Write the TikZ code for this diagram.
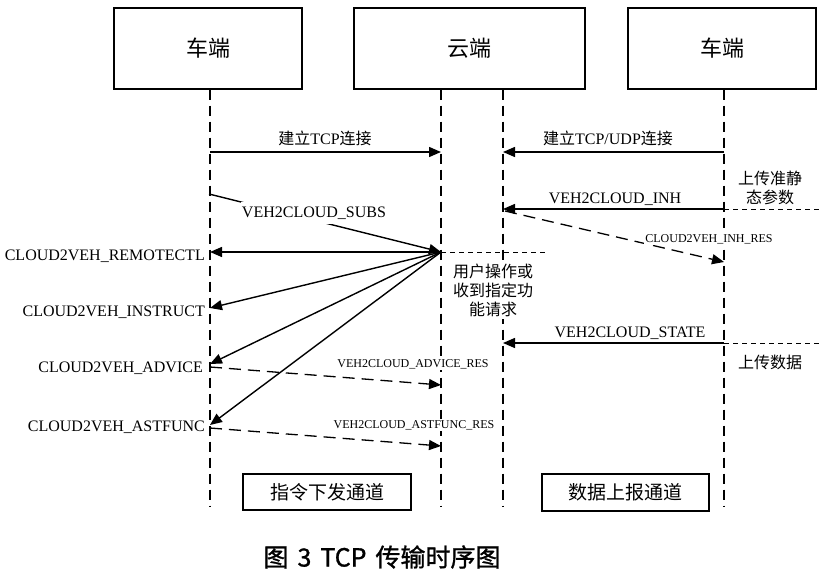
\documentclass[tikz,border=0pt]{standalone}
\usepackage{fontspec}
\setmainfont{Liberation Serif}
\newfontfamily\cjk{Noto Sans CJK SC}
\newfontfamily\capfont[FakeBold=1.2]{Noto Sans CJK SC}
\usetikzlibrary{arrows.meta}
\begin{document}
\begin{tikzpicture}[x=1pt,y=-1pt,
  actor/.style={draw,line width=1.1pt,inner sep=0pt,font=\cjk\fontsize{22}{24}\selectfont},
  chanbox/.style={draw,line width=1.1pt,inner sep=0pt,font=\cjk\fontsize{19}{21}\selectfont},
  lifeline/.style={line width=1.2pt,dash pattern=on 10pt off 6pt},
  msg/.style={line width=1.4pt,-{Triangle[length=12pt,width=10pt]}},
  ret/.style={line width=1.3pt,dash pattern=on 12pt off 7pt,-{Triangle[length=12pt,width=10pt]}},
  ext/.style={line width=1pt,dash pattern=on 5pt off 4pt},
  big/.style={inner sep=0pt,font=\fontsize{16}{18}\selectfont},
  small/.style={inner sep=1pt,fill=white,font=\fontsize{12}{14}\selectfont},
  zh/.style={inner sep=1pt,align=center,font=\cjk\fontsize{16}{19}\selectfont},
]
\useasboundingbox (0,0) rectangle (821,580);

% actor boxes
\node[actor,minimum width=188pt,minimum height=81pt] (car1) at (208,48.5) {车端};
\node[actor,minimum width=231pt,minimum height=81pt] (cloud) at (469.5,48.5) {云端};
\node[actor,minimum width=188pt,minimum height=81pt] (car2) at (722,48.5) {车端};

% lifelines
\coordinate (L1b) at (210,507);
\coordinate (L2b) at (441,507);
\coordinate (L3b) at (503,507);
\coordinate (L4b) at (724,507);
\draw[lifeline] (car1.south -| L1b) -- (L1b);
\draw[lifeline] (cloud.south -| L2b) -- (L2b);
\draw[lifeline] (cloud.south -| L3b) -- (L3b);
\draw[lifeline] (car2.south -| L4b) -- (L4b);

% --- left: command channel ---
\coordinate (t1a) at (210,152);
\coordinate (t1b) at (441,152);
\draw[msg] (t1a) -- (t1b);
\node[big] (t1l) at (325,138) {{\cjk 建立}TCP{\cjk 连接}};

\coordinate (hub) at (441,252);
\coordinate (s0) at (209,194);
\draw[msg] (s0) -- (hub);
\node[big,fill=white,inner xsep=1pt,inner ysep=5pt] (subs) at (314,213) {VEH2CLOUD\_SUBS};

\coordinate (hubx) at (545,252);
\draw[ext] (hub) -- (hubx);

\coordinate (r1) at (210,252);
\coordinate (r2) at (210,308);
\coordinate (r3) at (210,364);
\coordinate (r4) at (210,425);
\draw[msg] (hub) -- (r1);
\draw[msg] (hub) -- (r2);
\draw[msg] (hub) -- (r3);
\draw[msg] (hub) -- (r4);
\node[big,anchor=east] (n1) at (205,256) {CLOUD2VEH\_REMOTECTL};
\node[big,anchor=east] (n2) at (205,312) {CLOUD2VEH\_INSTRUCT};
\node[big,anchor=east] (n3) at (203,368) {CLOUD2VEH\_ADVICE};
\node[big,anchor=east] (n4) at (205,427) {CLOUD2VEH\_ASTFUNC};

\coordinate (a0) at (210,367);
\coordinate (a1) at (441,385);
\draw[ret] (a0) -- (a1);
\node[small] (advres) at (413,364) {VEH2CLOUD\_ADVICE\_RES};

\coordinate (f0) at (210,428);
\coordinate (f1) at (441,446);
\draw[ret] (f0) -- (f1);
\node[small] (astres) at (414,425) {VEH2CLOUD\_ASTFUNC\_RES};

\node[zh,fill=white,inner ysep=3pt] (user) at (493,290) {用户操作或\\收到指定功\\能请求};

% --- right: data channel ---
\coordinate (u1a) at (724,152);
\coordinate (u1b) at (503,152);
\draw[msg] (u1a) -- (u1b);
\node[big] (u1l) at (608,138) {{\cjk 建立}TCP/UDP{\cjk 连接}};

\coordinate (i0) at (724,209);
\coordinate (i1) at (503,209);
\coordinate (iext) at (821,209);
\draw[msg] (i0) -- (i1);
\draw[ext] (i0) -- (iext);
\node[big] (inh) at (615,199) {VEH2CLOUD\_INH};
\node[zh] (upstat) at (770,188) {上传准静\\态参数};

\coordinate (h0) at (505,211);
\coordinate (h1) at (724,262);
\draw[ret] (h0) -- (h1);
\node[small] (inhres) at (709,239) {CLOUD2VEH\_INH\_RES};

\coordinate (st0) at (724,343);
\coordinate (st1) at (503,343);
\coordinate (stext) at (821,343);
\draw[msg] (st0) -- (st1);
\draw[ext] (st0) -- (stext);
\node[big] (state) at (630,333) {VEH2CLOUD\_STATE};
\node[zh] (updata) at (770,362) {上传数据};

% channel boxes
\node[chanbox,minimum width=168pt,minimum height=36pt] (ch1) at (327,492) {指令下发通道};
\node[chanbox,minimum width=167pt,minimum height=37pt] (ch2) at (625.5,492.5) {数据上报通道};

% caption
\node[inner sep=0pt,font=\capfont\fontsize{25}{27}\selectfont] (cap) at (382,557) {图\hspace{9pt}3\hspace{9pt}TCP\hspace{9pt}传输时序图};
\end{tikzpicture}
\end{document}
